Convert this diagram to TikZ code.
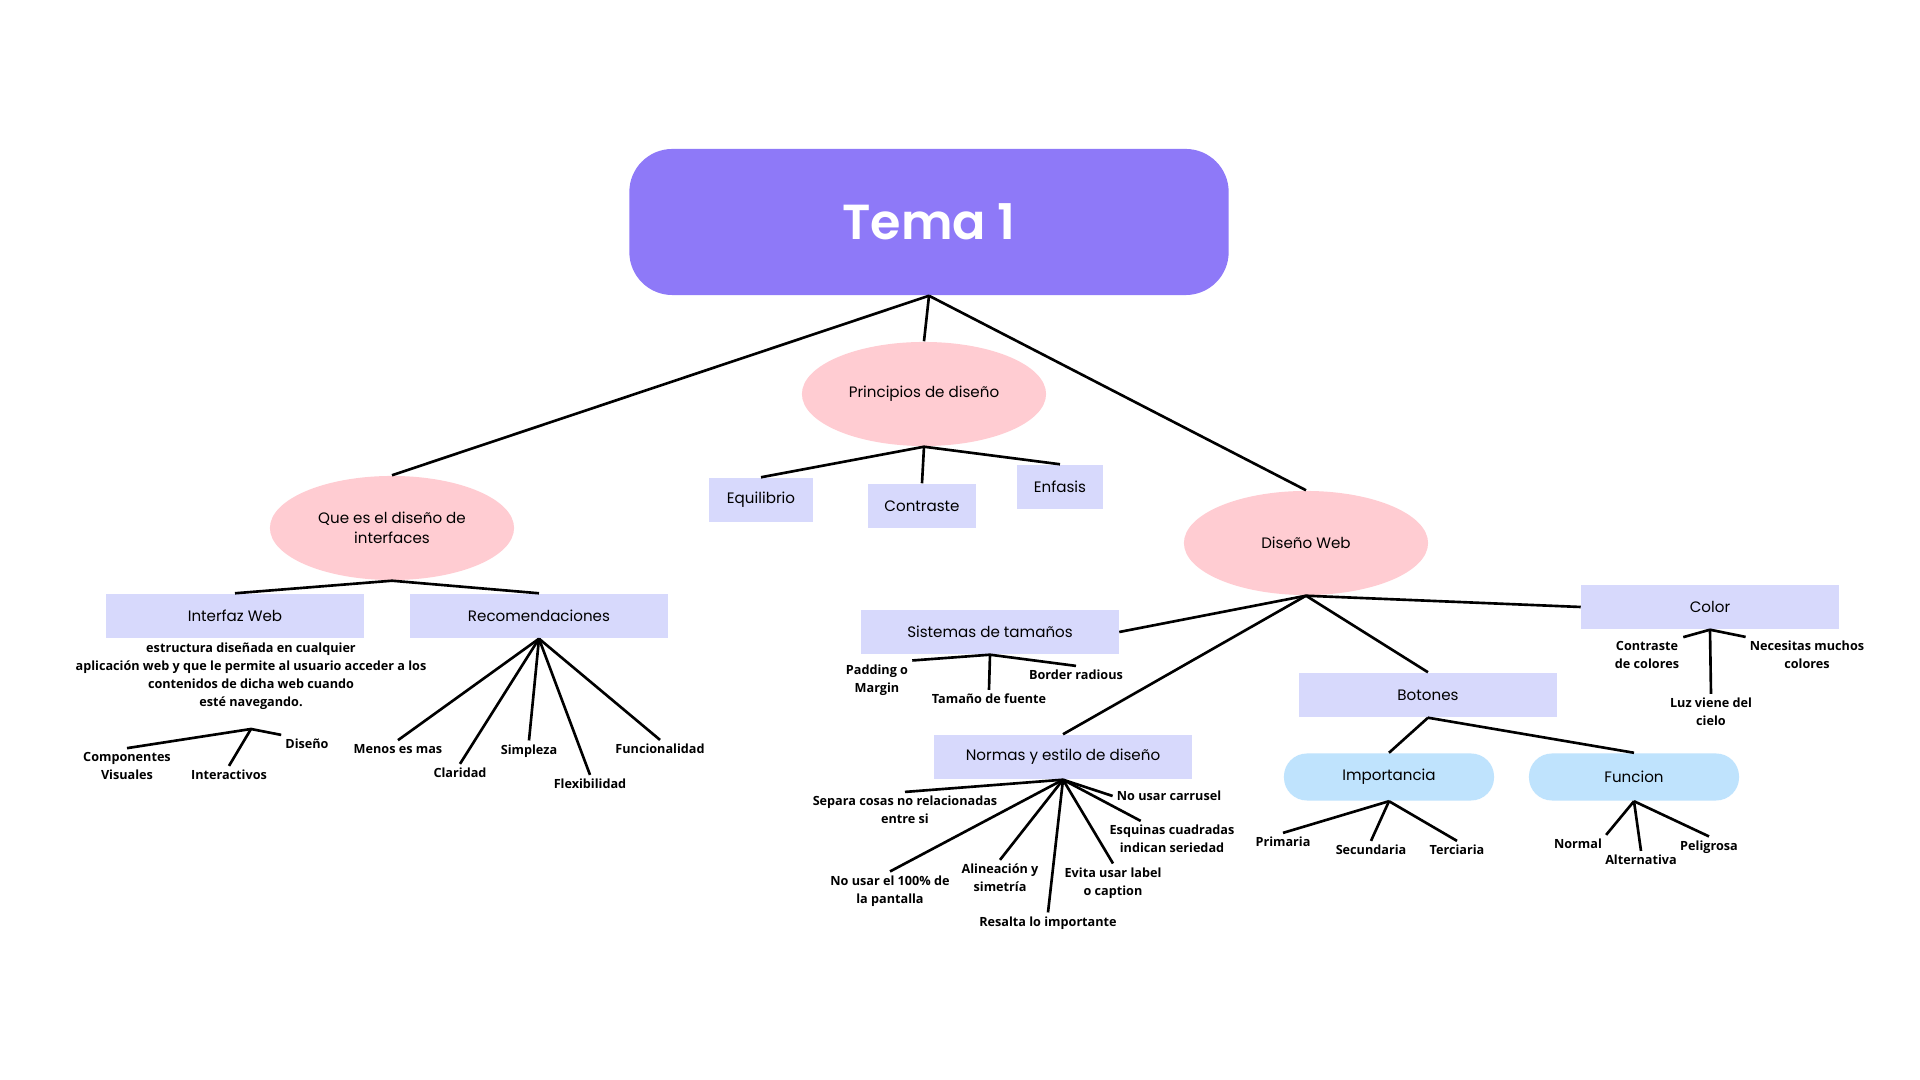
\documentclass[tikz,border=0pt]{standalone}
\usepackage{fontspec}
\setmainfont{Poppins}
\newfontfamily\leaffont{Open Sans}
\newfontfamily\temafont{Poppins}[UprightFont=* SemiBold, BoldFont=* SemiBold]
\usetikzlibrary{shapes.geometric}
\definecolor{temapurple}{HTML}{8E79F8}
\definecolor{blobpink}{HTML}{FFCCD2}
\definecolor{tablav}{HTML}{D7D9FC}
\definecolor{pillblue}{HTML}{BFE3FD}
\newcommand\mainsize{\fontsize{4.3pt}{5.6pt}\selectfont}
\newcommand\leafsize{\leaffont\bfseries\fontsize{3.6pt}{5.1pt}\selectfont}
\tikzset{
  link/.style={draw, line width=0.75pt},
  tema/.style={fill=temapurple, rounded corners=0.43cm, minimum width=5.99cm, minimum height=1.46cm, text=white, font=\temafont\fontsize{14pt}{17pt}\selectfont},
  blob/.style={ellipse, fill=blobpink, minimum width=2.44cm, minimum height=1.04cm, inner sep=0pt, align=center, font=\mainsize},
  tab/.style={fill=tablav, minimum width=2.57cm, minimum height=0.44cm, inner sep=0pt, font=\mainsize},
  pill/.style={fill=pillblue, rounded corners=0.23cm, minimum width=2.1cm, minimum height=0.47cm, inner sep=0pt, font=\mainsize},
  leaf/.style={align=center, inner sep=1pt, font=\leafsize},
}
\begin{document}
\begin{tikzpicture}[x=0.01cm, y=-0.01cm]
\path[fill=white] (0,0) rectangle (1920,1080);
% top
\node[tema] (tema) at (929,222) {Tema 1};
\node[blob] (que) at (392,528) {Que es el diseño de\\interfaces};
\node[blob] (prin) at (924,394) {Principios de diseño};
\node[blob] (web) at (1306,543) {Diseño Web};
\draw[link] (tema.south) -- (que.north);
\draw[link] (tema.south) -- (prin.north);
\draw[link] (tema.south) -- (web.north);
% principios
\node[tab, minimum width=1.03cm] (equi) at (761,500) {Equilibrio};
\node[tab, minimum width=1.07cm] (contra) at (922,506) {Contraste};
\node[tab, minimum width=0.85cm] (enf) at (1060,487) {Enfasis};
\draw[link] (prin.south) -- (equi.north);
\draw[link] (prin.south) -- (contra.north);
\draw[link] (prin.south) -- (enf.north);
% que es
\node[tab] (iweb) at (235,616) {Interfaz Web};
\node[tab] (rec) at (539,616) {Recomendaciones};
\draw[link] (que.south) -- (iweb.north);
\draw[link] (que.south) -- (rec.north);
\node[leaf] (desc) at (251,676) {estructura diseñada en cualquier\\aplicación web y que le permite al usuario acceder a los\\contenidos de dicha web cuando\\esté navegando.};
\coordinate (iwhub) at (251,729);
\node[leaf] (comp) at (127,766) {Componentes\\Visuales};
\node[leaf] (inter) at (229,775) {Interactivos};
\node[leaf] (dis) at (307,744) {Diseño};
\draw[link] (iwhub) -- (comp.north);
\draw[link] (iwhub) -- (inter.north);
\draw[link] (iwhub) -- (dis.north west);
\node[leaf] (menos) at (398,749) {Menos es mas};
\node[leaf] (clar) at (460,773) {Claridad};
\node[leaf] (simp) at (529,751) {Simpleza};
\node[leaf] (flex) at (590,784) {Flexibilidad};
\node[leaf] (func) at (660,749) {Funcionalidad};
\foreach \n in {menos,clar,simp,flex,func}
  \draw[link] (rec.south) -- (\n.north);
% diseno web
\node[tab] (sis) at (990,632) {Sistemas de tamaños};
\node[tab] (nor) at (1063,757) {Normas y estilo de diseño};
\node[tab] (bot) at (1428,695) {Botones};
\node[tab] (col) at (1710,607) {Color};
\draw[link] (web.south) -- (sis.east);
\draw[link] (web.south) -- (nor.north);
\draw[link] (web.south) -- (bot.north);
\draw[link] (web.south) -- (col.west);
% tamanos
\node[leaf] (pad) at (877,680) {Padding o\\Margin};
\node[leaf] (tam) at (989,699) {Tamaño de fuente};
\node[leaf] (bord) at (1076,675) {Border radious};
\draw[link] (sis.south) -- (pad.north east);
\draw[link] (sis.south) -- (tam.north);
\draw[link] (sis.south) -- (bord.north);
% normas
\node[leaf] (sep) at (905,810) {Separa cosas no relacionadas\\entre si};
\node[leaf] (nocien) at (890,891) {No usar el 100\% de\\la pantalla};
\node[leaf] (alin) at (1000,878) {Alineación y\\simetría};
\node[leaf] (resal) at (1048,923) {Resalta lo importante};
\node[leaf] (evita) at (1113,883) {Evita usar label\\o caption};
\node[leaf] (esq) at (1172,839) {Esquinas cuadradas\\indican seriedad};
\node[leaf] (carr) at (1169,796) {No usar carrusel};
\foreach \n in {sep,nocien,alin,resal,evita}
  \draw[link] (nor.south) -- (\n.north);
\draw[link] (nor.south) -- (esq.150);
\draw[link] (nor.south) -- (carr.west);
% botones
\node[pill] (imp) at (1389,777) {Importancia};
\node[pill] (fun) at (1634,777) {Funcion};
\draw[link] (bot.south) -- (imp.north);
\draw[link] (bot.south) -- (fun.north);
\node[leaf] (prim) at (1283,842) {Primaria};
\node[leaf] (sec) at (1371,850) {Secundaria};
\node[leaf] (ter) at (1457,850) {Terciaria};
\foreach \n in {prim,sec,ter}
  \draw[link] (imp.south) -- (\n.north);
\node[leaf] (norm) at (1578,844) {Normal};
\node[leaf] (alt) at (1641,860) {Alternativa};
\node[leaf] (pel) at (1709,847) {Peligrosa};
\draw[link] (fun.south) -- (norm.north east);
\draw[link] (fun.south) -- (alt.north);
\draw[link] (fun.south) -- (pel.north);
% color
\node[leaf] (contr) at (1647,655) {Contraste\\de colores};
\node[leaf] (luz) at (1711,712) {Luz viene del\\cielo};
\node[leaf] (nec) at (1807,655) {Necesitas muchos\\colores};
\draw[link] (col.south) -- (contr.north east);
\draw[link] (col.south) -- (luz.north);
\draw[link] (col.south) -- (nec.north west);
\end{tikzpicture}
\end{document}
